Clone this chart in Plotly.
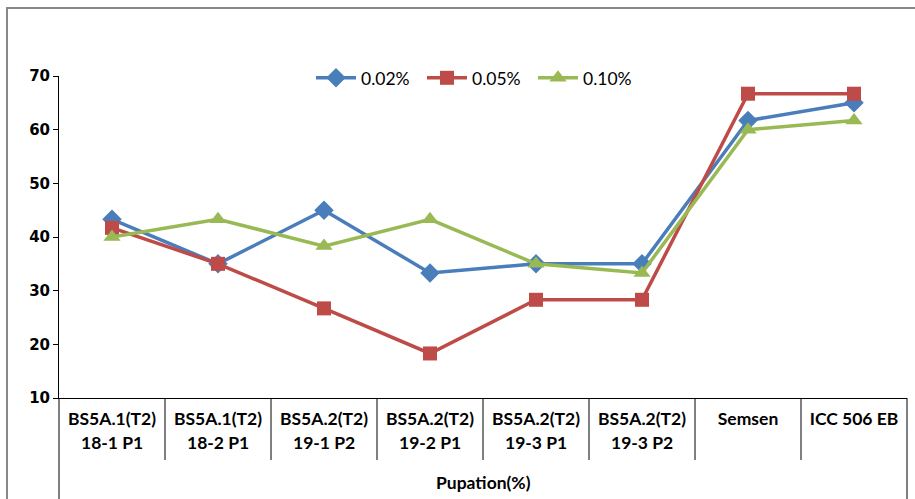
import plotly.graph_objects as go

# Category labels (two text lines per category)
line1 = ["BS5A.1(T2)", "BS5A.1(T2)", "BS5A.2(T2)", "BS5A.2(T2)",
         "BS5A.2(T2)", "BS5A.2(T2)", "Semsen", "ICC 506 EB"]
line2 = ["18-1 P1", "18-2 P1", "19-1 P2", "19-2 P1",
         "19-3 P1", "19-3 P2", "", ""]
group_label = "Pupation(%)"

# Pupation (%) at each concentration
conc_002 = [43.3, 35.0, 45.0, 33.3, 35.0, 35.0, 61.7, 65.0]
conc_005 = [41.7, 35.0, 26.7, 18.3, 28.3, 28.3, 66.7, 66.7]
conc_010 = [40.0, 43.3, 38.3, 43.3, 35.0, 33.3, 60.0, 61.7]

series = [
    ("0.02%", conc_002, "#4A7EBB", "diamond", 15),
    ("0.05%", conc_005, "#BE4B48", "square", 14),
    ("0.10%", conc_010, "#98B954", "triangle-up", 15),
]

x_idx = list(range(len(line1)))

fig = go.Figure()
for name, vals, color, sym, size in series:
    fig.add_trace(go.Scatter(
        x=x_idx, y=vals, name=name, mode="lines+markers",
        line=dict(color=color, width=3.5),
        marker=dict(symbol=sym, size=size, color=color),
    ))

label_font = dict(family="Lato", size=17.5, color="#000000")

shapes = []
# Divider lines of the category label band
n = len(line1)
for i in range(1, n):
    shapes.append(dict(type="line", xref="x", yref="paper",
                       x0=i - 0.5, x1=i - 0.5, y0=0, y1=-62 / 322,
                       line=dict(color="#000000", width=1)))
# Outer edges of the label band running to the bottom
for xe in (0, 1):
    shapes.append(dict(type="line", xref="paper", yref="paper",
                       x0=xe, x1=xe, y0=0, y1=-110 / 322,
                       line=dict(color="#000000", width=1)))
# Chart-area frame
shapes.append(dict(type="rect", xref="paper", yref="paper",
                   x0=(7 - 59) / 848, x1=(925 - 59) / 848,
                   y0=-(520 - 398) / 322, y1=1 + (76 - 8) / 322,
                   line=dict(color="#888888", width=2),
                   fillcolor="rgba(0,0,0,0)", layer="below"))

annotations = []
for i, t in enumerate(line2):
    if t:
        annotations.append(dict(x=i, y=-44 / 322, xref="x", yref="paper",
                                text=f"<b>{t}</b>", showarrow=False,
                                font=label_font, yanchor="middle"))
annotations.append(dict(x=0.5, y=-84 / 322, xref="paper", yref="paper",
                        text=f"<b>{group_label}</b>", showarrow=False,
                        font=label_font, yanchor="middle"))

fig.update_layout(
    width=915, height=499,
    margin=dict(l=59, r=8, t=76, b=101),
    paper_bgcolor="white", plot_bgcolor="white",
    showlegend=True,
    legend=dict(orientation="h", x=0.4935, xanchor="center",
                y=0.994, yanchor="middle",
                font=dict(family="Lato", size=17.5, color="#000000"),
                bgcolor="rgba(0,0,0,0)", itemwidth=40,
                entrywidth=56, entrywidthmode="pixels"),
    xaxis=dict(range=[-0.5, n - 0.5], tickmode="array", tickvals=x_idx,
               ticktext=[f"<b>{t}</b>" for t in line1],
               showgrid=False, zeroline=False, showline=True,
               linecolor="#000000", linewidth=1, ticks="",
               ticklabelstandoff=5,
               tickfont=label_font),
    yaxis=dict(range=[10, 70], dtick=10, showgrid=False, zeroline=False,
               showline=True, linecolor="#000000", linewidth=1,
               ticks="outside", ticklen=5, tickcolor="#000000",
               tickfont=dict(family="DejaVu Sans", size=15, color="#000000",
                             weight="bold")),
    shapes=shapes,
    annotations=annotations,
)

fig.write_html("out.html")
